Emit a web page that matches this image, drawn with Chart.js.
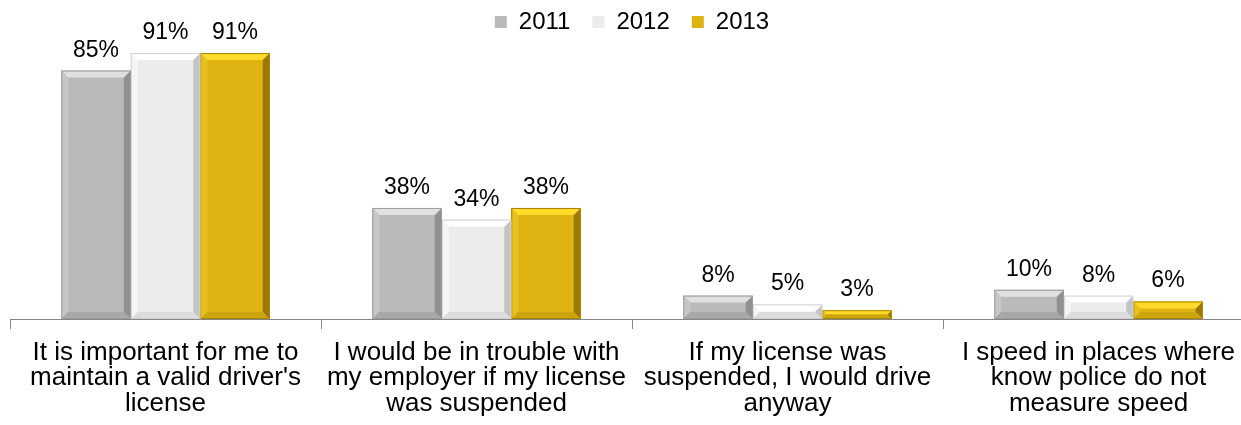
<!DOCTYPE html>
<html>
<head>
<meta charset="utf-8">
<script src="https://cdn.jsdelivr.net/npm/chart.js@4"></script>
<style>
  html, body { margin: 0; padding: 0; background: #fff; overflow: hidden; }
  #wrap { width: 1254px; height: 425px; }
</style>
</head>
<body>
<div id="wrap"><canvas id="chart" width="1254" height="425"></canvas></div>
<script>
// --- data ---
const categories = [
    ["It is important for me to", "maintain a valid driver's", "license"],
    ["I would be in trouble with", "my employer if my license", "was suspended"],
    ["If my license was", "suspended, I would drive", "anyway"],
    ["I speed in places where", "know police do not", "measure speed"]
];
const seriesNames = ["2011", "2012", "2013"];
const values2011 = [85, 38, 8, 10];
const values2012 = [91, 34, 5, 8];
const values2013 = [91, 38, 3, 6];

// bevel colours per series: body, top, left, right, bottom, outline
const BAR_STYLES = [
    { body: '#bababa', top: '#e0e0e0', left: '#c6c6c6', right: '#909090', bottom: '#a8a8a8', edge: '#9c9c9c' },
    { body: '#ececec', top: '#ffffff', left: '#f5f5f5', right: '#c4c4c4', bottom: '#dcdcdc', edge: '#d0d0d0' },
    { body: '#dfb412', top: '#ffdb2c', left: '#e8c01c', right: '#9c7800', bottom: '#cca40c', edge: '#a88400' }
];

const FONT = '"Liberation Sans", Arial, sans-serif';

// draws the bevelled edges on top of each bar
const bevelPlugin = {
    id: 'bevel',
    afterDatasetDraw(chart, args) {
        const ctx = chart.ctx;
        const st = BAR_STYLES[args.index];
        chart.getDatasetMeta(args.index).data.forEach(bar => {
            const l = bar.x - bar.width / 2, r = bar.x + bar.width / 2;
            const t = bar.y, b = bar.base;
            const bv = Math.min(7, (b - t) / 2);
            const poly = (pts, color) => {
                ctx.beginPath();
                ctx.moveTo(pts[0][0], pts[0][1]);
                pts.slice(1).forEach(p => ctx.lineTo(p[0], p[1]));
                ctx.closePath();
                ctx.fillStyle = color;
                ctx.fill();
            };
            ctx.save();
            poly([[l, t], [l + bv, t + bv], [l + bv, b - bv], [l, b]], st.left);
            poly([[r, t], [r, b], [r - bv, b - bv], [r - bv, t + bv]], st.right);
            poly([[l, t], [r, t], [r - bv, t + bv], [l + bv, t + bv]], st.top);
            poly([[l, b], [r, b], [r - bv, b - bv], [l + bv, b - bv]], st.bottom);
            ctx.strokeStyle = st.edge;
            ctx.lineWidth = 1;
            ctx.strokeRect(l + 0.5, t + 0.5, r - l - 1, b - t - 1);
            ctx.restore();
        });
    }
};

// value labels above the bars
const labelPlugin = {
    id: 'valueLabels',
    afterDraw(chart) {
        const ctx = chart.ctx;
        ctx.save();
        ctx.font = '23px ' + FONT;
        ctx.fillStyle = '#000';
        ctx.textAlign = 'center';
        ctx.textBaseline = 'alphabetic';
        chart.data.datasets.forEach((ds, i) => {
            chart.getDatasetMeta(i).data.forEach((bar, j) => {
                ctx.fillText(ds.data[j] + '%', bar.x, bar.y - 14);
            });
        });
        ctx.restore();
    }
};

const allValues = [values2011, values2012, values2013];

new Chart(document.getElementById('chart'), {
    type: 'bar',
    data: {
        labels: categories,
        datasets: seriesNames.map((name, i) => ({
            label: name,
            data: allValues[i],
            backgroundColor: BAR_STYLES[i].body,
            borderColor: BAR_STYLES[i].right,
            borderWidth: 0,
            clip: false,
            categoryPercentage: 0.67,
            barPercentage: 1
        }))
    },
    options: {
        responsive: false,
        animation: false,
        // negative top so the wide legend spacing doesn't push the plot down
        layout: { padding: { left: 10, right: 0, top: -12, bottom: 0 } },
        scales: {
            x: {
                offset: true,
                grid: {
                    offset: true,
                    drawOnChartArea: false,
                    tickLength: 10,
                    color: '#868686'
                },
                border: { color: '#868686', width: 1 },
                ticks: {
                    color: '#000',
                    padding: 11,
                    maxRotation: 0,
                    autoSkip: false,
                    font: { family: FONT, size: 26, lineHeight: 0.98 }
                },
                afterFit(scale) { scale.height = 106; }
            },
            y: {
                display: false,
                min: 0,
                max: 94.1
            }
        },
        plugins: {
            legend: {
                position: 'top',
                labels: {
                    boxWidth: 12,
                    boxHeight: 12,
                    padding: 22,
                    color: '#000',
                    font: { family: FONT, size: 24 }
                }
            },
            tooltip: { enabled: false }
        }
    },
    plugins: [bevelPlugin, labelPlugin]
});
</script>
</body>
</html>
